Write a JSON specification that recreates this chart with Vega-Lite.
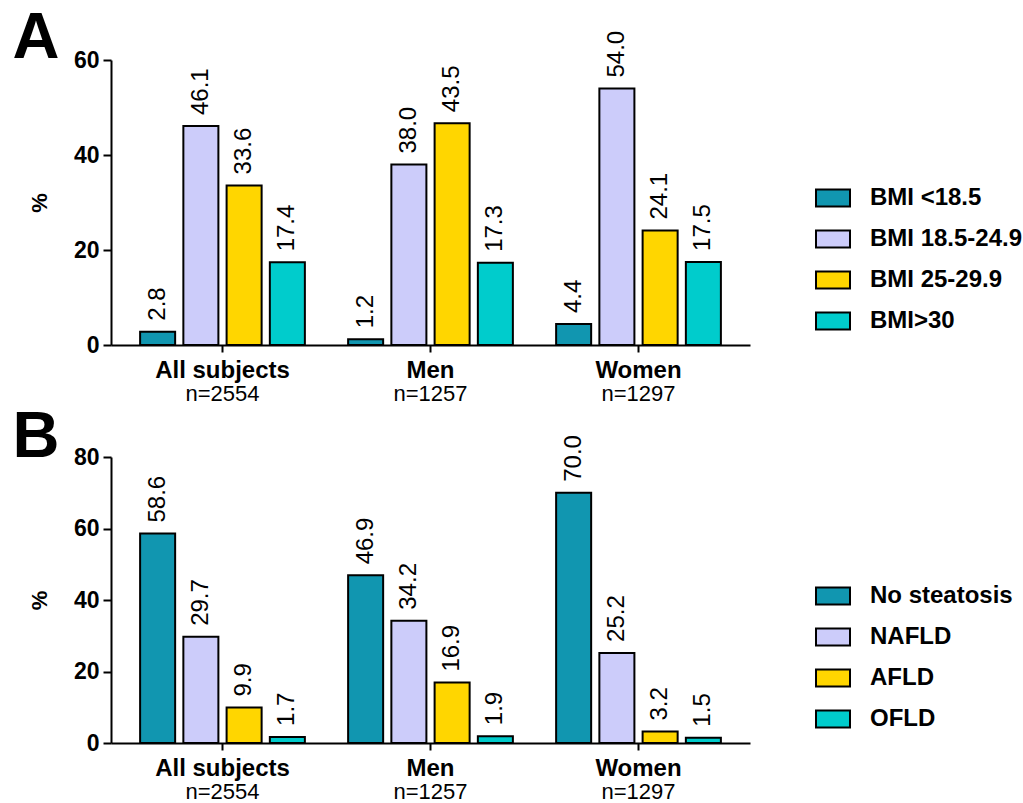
{
  "$schema": "https://vega.github.io/schema/vega-lite/v6.json",
  "padding": {"left": 12, "top": 5, "right": 5, "bottom": 5},
  "background": "white",
  "config": {
    "font": "Liberation Sans",
    "view": {"stroke": null},
    "axis": {
      "domainColor": "black", "domainWidth": 2, "tickColor": "black", "tickWidth": 2,
      "labelColor": "black", "labelFont": "Liberation Sans", "labelFontWeight": "bold", "labelFontSize": 23,
      "titleFont": "Liberation Sans", "titleFontSize": 22, "titleFontWeight": "bold", "titleColor": "black", "grid": false
    },
    "legend": {
      "labelFont": "Liberation Sans", "labelFontSize": 24, "labelFontWeight": "bold", "labelColor": "black",
      "symbolType": "M-1,-0.5H1V0.5H-1Z", "symbolSize": 1156, "symbolStrokeColor": "black", "symbolStrokeWidth": 2,
      "symbolOpacity": 1, "labelOffset": 19, "rowPadding": 10, "padding": 0, "title": null, "orient": "none"
    },
    "text": {"font": "Liberation Sans", "color": "black"}
  },
  "datasets": {
    "a": [
      {"group": "All subjects", "cat": "BMI <18.5", "val": 2.8, "label": "2.8"},
      {"group": "All subjects", "cat": "BMI 18.5-24.9", "val": 46.1, "label": "46.1"},
      {"group": "All subjects", "cat": "BMI 25-29.9", "val": 33.6, "label": "33.6"},
      {"group": "All subjects", "cat": "BMI>30", "val": 17.4, "label": "17.4"},
      {"group": "Men", "cat": "BMI <18.5", "val": 1.2, "label": "1.2"},
      {"group": "Men", "cat": "BMI 18.5-24.9", "val": 38.0, "label": "38.0"},
      {"group": "Men", "cat": "BMI 25-29.9", "val": 46.7, "label": "43.5"},
      {"group": "Men", "cat": "BMI>30", "val": 17.3, "label": "17.3"},
      {"group": "Women", "cat": "BMI <18.5", "val": 4.4, "label": "4.4"},
      {"group": "Women", "cat": "BMI 18.5-24.9", "val": 54.0, "label": "54.0"},
      {"group": "Women", "cat": "BMI 25-29.9", "val": 24.1, "label": "24.1"},
      {"group": "Women", "cat": "BMI>30", "val": 17.5, "label": "17.5"}
    ],
    "b": [
      {"group": "All subjects", "cat": "No steatosis", "val": 58.6, "label": "58.6"},
      {"group": "All subjects", "cat": "NAFLD", "val": 29.7, "label": "29.7"},
      {"group": "All subjects", "cat": "AFLD", "val": 9.9, "label": "9.9"},
      {"group": "All subjects", "cat": "OFLD", "val": 1.7, "label": "1.7"},
      {"group": "Men", "cat": "No steatosis", "val": 46.9, "label": "46.9"},
      {"group": "Men", "cat": "NAFLD", "val": 34.2, "label": "34.2"},
      {"group": "Men", "cat": "AFLD", "val": 16.9, "label": "16.9"},
      {"group": "Men", "cat": "OFLD", "val": 1.9, "label": "1.9"},
      {"group": "Women", "cat": "No steatosis", "val": 70.0, "label": "70.0"},
      {"group": "Women", "cat": "NAFLD", "val": 25.2, "label": "25.2"},
      {"group": "Women", "cat": "AFLD", "val": 3.2, "label": "3.2"},
      {"group": "Women", "cat": "OFLD", "val": 1.5, "label": "1.5"}
    ],
    "groups": [
      {"group": "All subjects", "n": "n=2554"},
      {"group": "Men", "n": "n=1257"},
      {"group": "Women", "n": "n=1297"}
    ]
  },
  "spacing": 0,
  "resolve": {"scale": {"color": "independent", "x": "independent", "y": "independent", "xOffset": "independent"}, "legend": {"color": "independent"}},
  "vconcat": [
    {
      "title": {"text": "A", "fontSize": 65, "fontWeight": 900, "anchor": "start", "frame": "bounds", "baseline": "alphabetic", "dx": -16, "dy": 15, "offset": -77, "color": "black", "font": "Liberation Sans"},
      "width": 639, "height": 285,
      "layer": [
        {
          "data": {"name": "a"},
          "mark": {"type": "bar", "stroke": "black", "strokeWidth": 2},
          "encoding": {
            "x": {"field": "group", "type": "nominal", "sort": ["All subjects", "Men", "Women"], "scale": {"paddingInner": 0, "paddingOuter": 0.036},
                  "axis": {"title": null, "labelAngle": 0, "tickSize": 7, "labelPadding": 6, "labelFontSize": 24}},
            "xOffset": {"field": "cat", "type": "nominal", "sort": ["BMI <18.5", "BMI 18.5-24.9", "BMI 25-29.9", "BMI>30"], "scale": {"paddingInner": 0.19, "paddingOuter": 0.5}},
            "y": {"field": "val", "type": "quantitative", "scale": {"domain": [0, 60]},
                  "axis": {"title": "%", "values": [0, 20, 40, 60], "tickSize": 8, "labelPadding": 4, "titlePadding": 22}},
            "color": {"field": "cat", "type": "nominal", "sort": ["BMI <18.5", "BMI 18.5-24.9", "BMI 25-29.9", "BMI>30"],
                      "scale": {"domain": ["BMI <18.5", "BMI 18.5-24.9", "BMI 25-29.9", "BMI>30"], "range": ["#1196b0", "#ccccfa", "#ffd600", "#00cccc"]},
                      "legend": {"legendX": 704, "legendY": 120}}
          }
        },
        {
          "data": {"name": "a"},
          "mark": {"type": "text", "angle": 270, "align": "left", "baseline": "middle", "dx": 11, "fontSize": 24},
          "encoding": {
            "x": {"field": "group", "type": "nominal", "sort": ["All subjects", "Men", "Women"]},
            "xOffset": {"field": "cat", "type": "nominal", "sort": ["BMI <18.5", "BMI 18.5-24.9", "BMI 25-29.9", "BMI>30"]},
            "y": {"field": "val", "type": "quantitative"},
            "text": {"field": "label"}
          }
        },
        {
          "data": {"name": "groups"},
          "mark": {"type": "text", "baseline": "alphabetic", "dy": 56, "fontSize": 22, "clip": false},
          "encoding": {
            "x": {"field": "group", "type": "nominal", "sort": ["All subjects", "Men", "Women"]},
            "y": {"datum": 0},
            "text": {"field": "n"}
          }
        }
      ]
    },
    {
      "title": {"text": "B", "fontSize": 65, "fontWeight": 900, "anchor": "start", "frame": "bounds", "baseline": "alphabetic", "dx": -16, "dy": 10, "offset": -77, "color": "black", "font": "Liberation Sans"},
      "width": 639, "height": 286,
      "layer": [
        {
          "data": {"name": "b"},
          "mark": {"type": "bar", "stroke": "black", "strokeWidth": 2},
          "encoding": {
            "x": {"field": "group", "type": "nominal", "sort": ["All subjects", "Men", "Women"], "scale": {"paddingInner": 0, "paddingOuter": 0.036},
                  "axis": {"title": null, "labelAngle": 0, "tickSize": 7, "labelPadding": 6, "labelFontSize": 24}},
            "xOffset": {"field": "cat", "type": "nominal", "sort": ["No steatosis", "NAFLD", "AFLD", "OFLD"], "scale": {"paddingInner": 0.19, "paddingOuter": 0.5}},
            "y": {"field": "val", "type": "quantitative", "scale": {"domain": [0, 80]},
                  "axis": {"title": "%", "values": [0, 20, 40, 60, 80], "tickSize": 8, "labelPadding": 4, "titlePadding": 22}},
            "color": {"field": "cat", "type": "nominal", "sort": ["No steatosis", "NAFLD", "AFLD", "OFLD"],
                      "scale": {"domain": ["No steatosis", "NAFLD", "AFLD", "OFLD"], "range": ["#1196b0", "#ccccfa", "#ffd600", "#00cccc"]},
                      "legend": {"legendX": 704, "legendY": 121}}
          }
        },
        {
          "data": {"name": "b"},
          "mark": {"type": "text", "angle": 270, "align": "left", "baseline": "middle", "dx": 11, "fontSize": 24},
          "encoding": {
            "x": {"field": "group", "type": "nominal", "sort": ["All subjects", "Men", "Women"]},
            "xOffset": {"field": "cat", "type": "nominal", "sort": ["No steatosis", "NAFLD", "AFLD", "OFLD"]},
            "y": {"field": "val", "type": "quantitative"},
            "text": {"field": "label"}
          }
        },
        {
          "data": {"name": "groups"},
          "mark": {"type": "text", "baseline": "alphabetic", "dy": 56, "fontSize": 22, "clip": false},
          "encoding": {
            "x": {"field": "group", "type": "nominal", "sort": ["All subjects", "Men", "Women"]},
            "y": {"datum": 0},
            "text": {"field": "n"}
          }
        }
      ]
    }
  ]
}
